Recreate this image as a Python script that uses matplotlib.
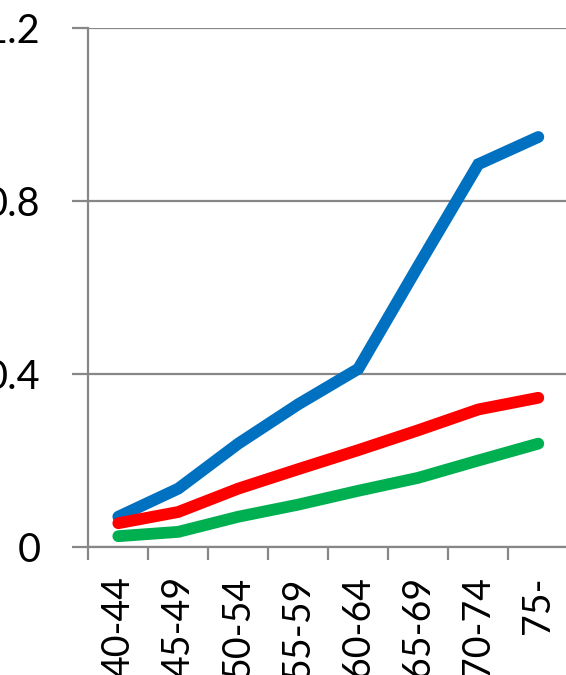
import numpy as np
import matplotlib
matplotlib.use('Agg')
import matplotlib.pyplot as plt

plt.rcParams['font.family'] = ['Lato', 'DejaVu Sans']

age_groups = ['40-44', '45-49', '50-54', '55-59', '60-64', '65-69', '70-74', '75-']
blue_vals = [0.070, 0.135, 0.239, 0.330, 0.412, 0.650, 0.885, 0.948]
red_vals = [0.055, 0.081, 0.135, 0.180, 0.224, 0.270, 0.318, 0.345]
green_vals = [0.025, 0.035, 0.070, 0.098, 0.130, 0.160, 0.200, 0.239]
y_ticks = [0, 0.4, 0.8, 1.2]
y_labels = ['0', '0.4', '0.8', '1.2']

grey = '#878787'

fig = plt.figure(figsize=(5.66, 6.75), dpi=100)
ax = fig.add_axes([88.3 / 566, 1 - 547 / 675, 480 / 566, (547 - 28) / 675])

x = np.arange(len(age_groups))
for vals, col in [(blue_vals, '#0070C0'), (red_vals, '#FF0000'), (green_vals, '#00B050')]:
    ax.plot(x, vals, color=col, lw=8.5, solid_capstyle='round', solid_joinstyle='miter')

ax.set_xlim(-0.5, 7.5)
ax.set_ylim(0, 1.2)

ax.set_yticks(y_ticks)
ax.set_yticklabels(y_labels)
ax.yaxis.grid(True, color=grey, lw=1.6)
ax.tick_params(axis='y', length=11.5, width=1.6, color=grey, pad=23, labelsize=28.5)

ax.set_xticks(x)
ax.set_xticklabels(age_groups, rotation=90, va='top', ha='center')
ax.set_xticks(np.arange(-0.5, 8.0, 1.0), minor=True)
ax.tick_params(axis='x', which='major', length=0, pad=21, labelsize=27)
ax.tick_params(axis='x', which='minor', length=9.5, width=1.6, color=grey)

for side in ['top', 'right']:
    ax.spines[side].set_visible(False)
for side in ['left', 'bottom']:
    ax.spines[side].set_color(grey)
    ax.spines[side].set_linewidth(1.6)

fig.savefig('out.png', dpi=100)
